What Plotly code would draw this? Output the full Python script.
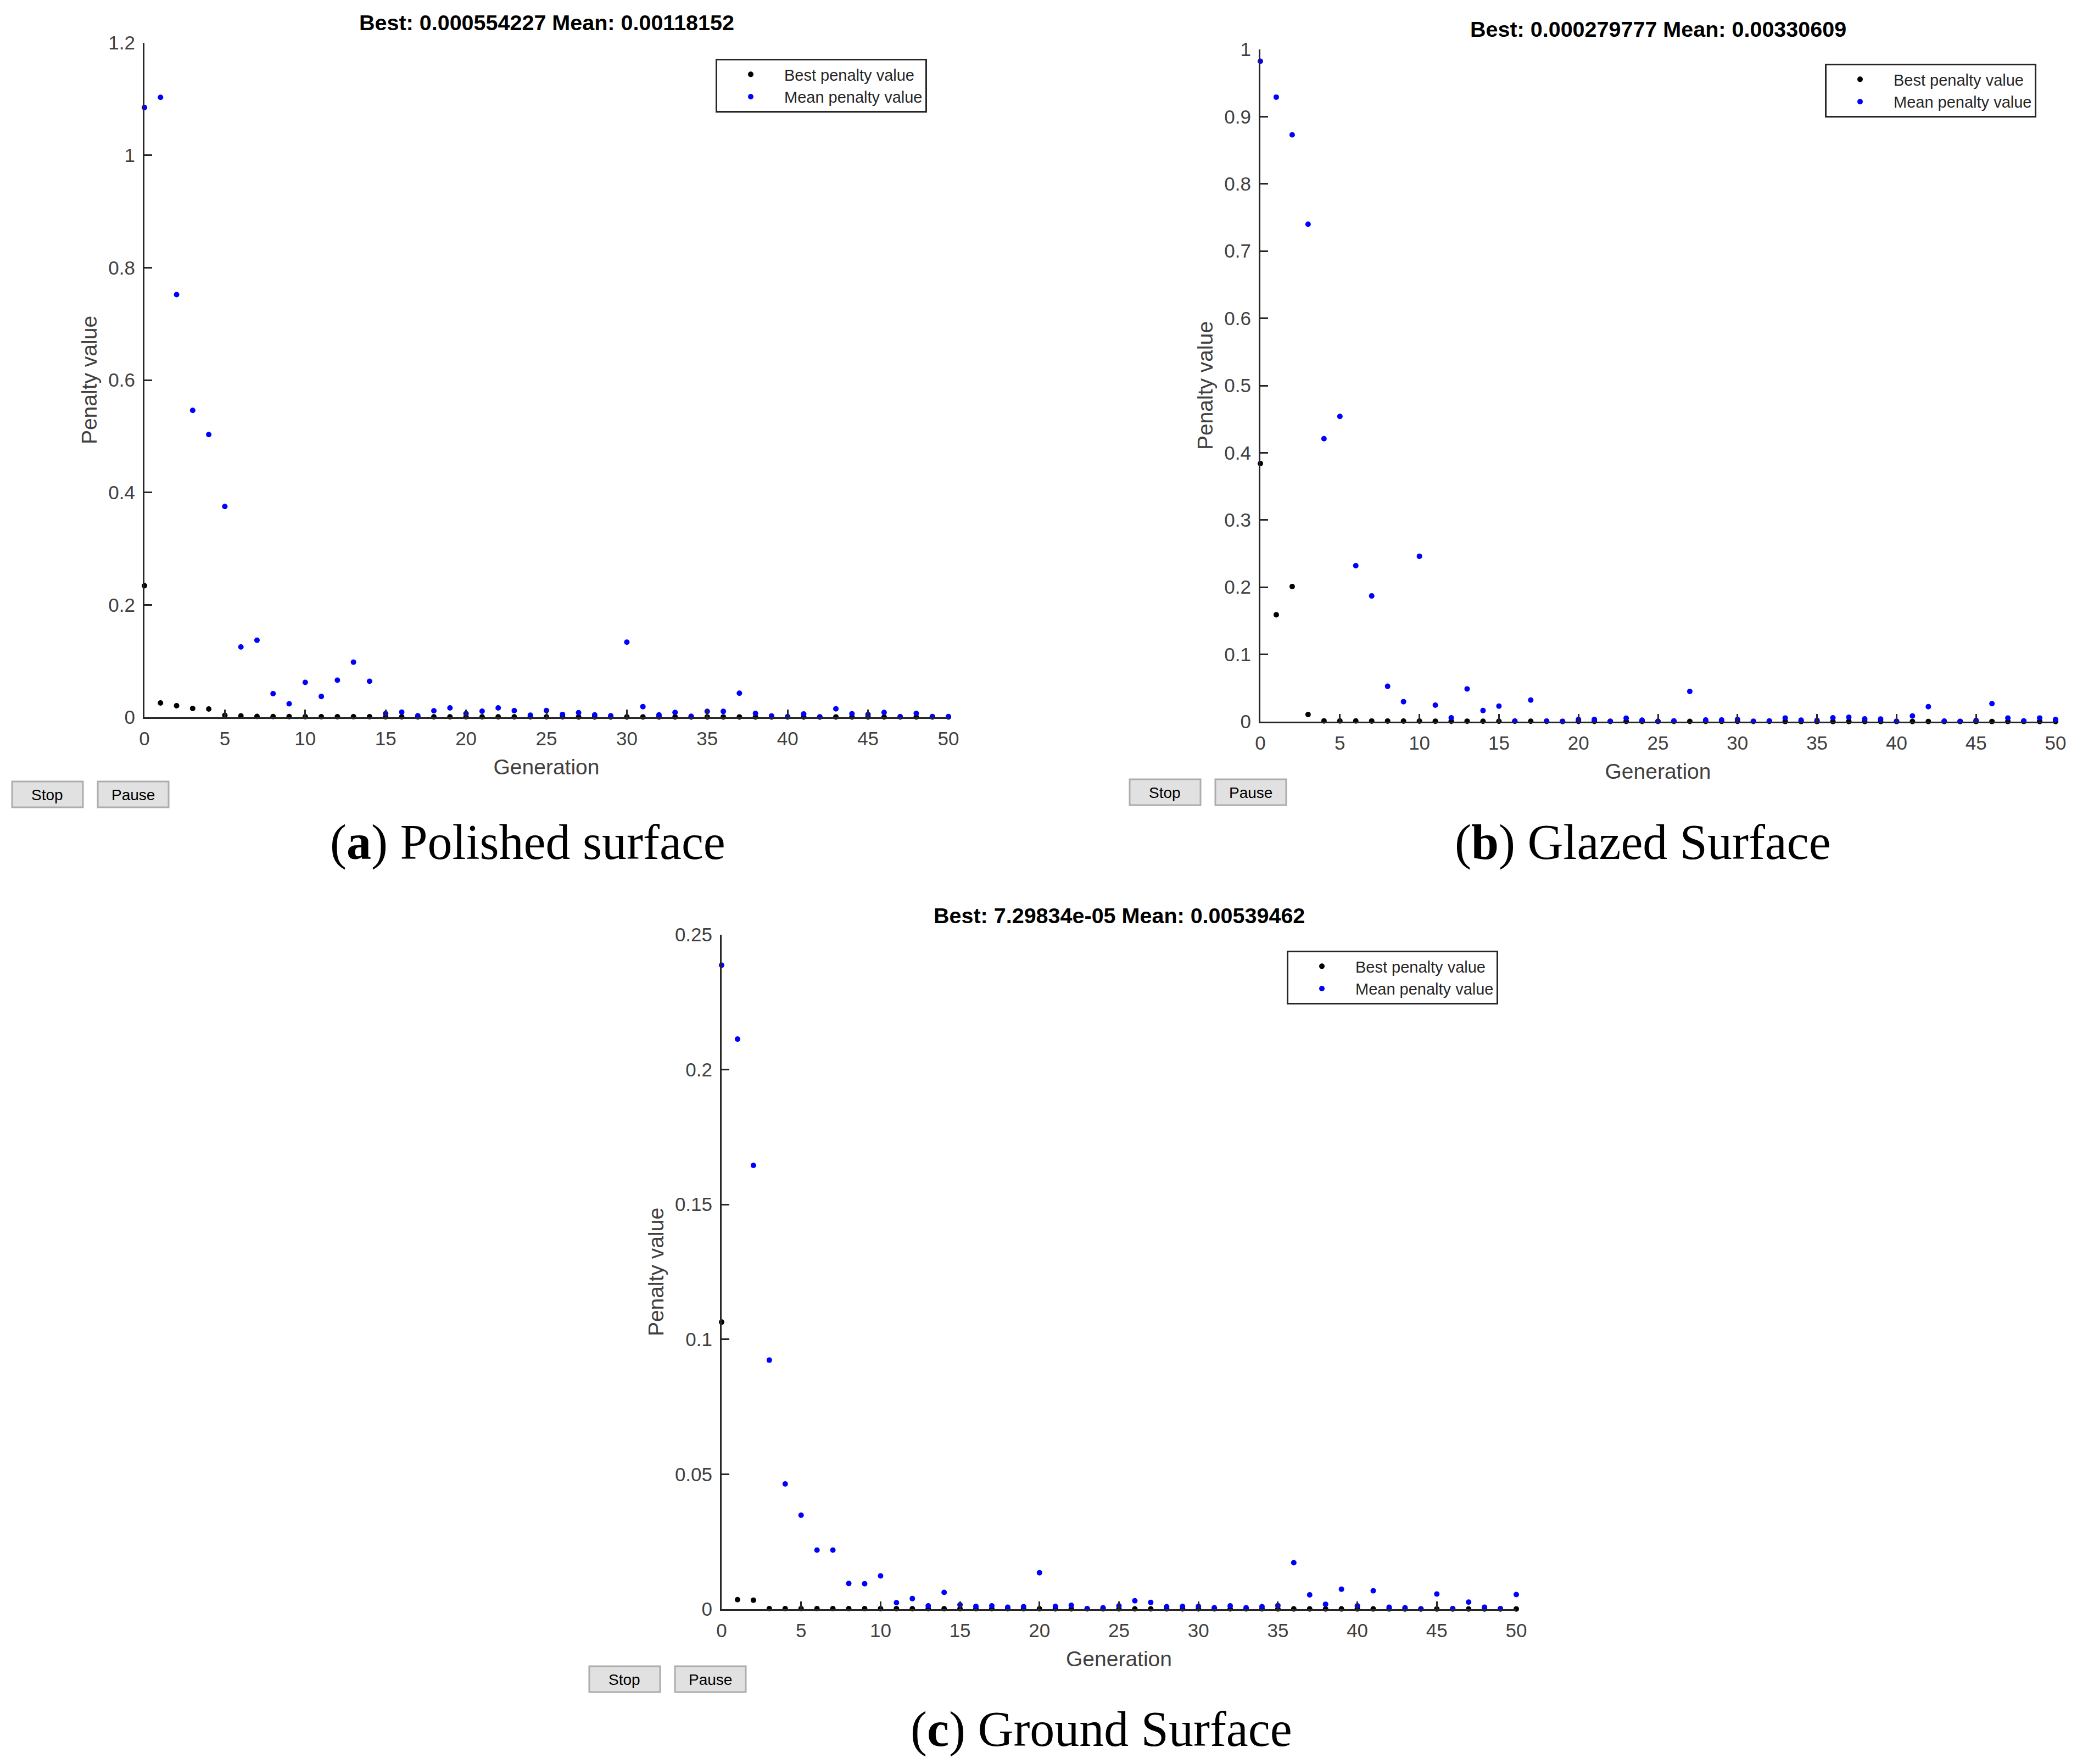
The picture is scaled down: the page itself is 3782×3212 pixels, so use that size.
import plotly.graph_objects as go

W = 3782
H = 3212

generation = list(range(51))
x_ticks = [0, 5, 10, 15, 20, 25, 30, 35, 40, 45, 50]

best_a = [0.234, 0.0254, 0.0205, 0.0156, 0.0147, 0.0035, 0.0025, 0.0015, 0.0012, 0.0011,
          0.001, 0.001, 0.0009, 0.0009, 0.0009, 0.0008, 0.0008, 0.0008, 0.0008, 0.0007,
          0.0007, 0.0007, 0.0007, 0.0007, 0.0007, 0.0007, 0.0007, 0.0006, 0.0006, 0.0006,
          0.0006, 0.0006, 0.0006, 0.0006, 0.0006, 0.0006, 0.0006, 0.0006, 0.0006, 0.0006,
          0.0006, 0.0006, 0.0006, 0.0006, 0.0006, 0.00055, 0.00055, 0.00055, 0.00055, 0.00055,
          0.00055]
mean_a = [1.085, 1.103, 0.752, 0.546, 0.503, 0.375, 0.125, 0.137, 0.042, 0.024,
          0.062, 0.037, 0.066, 0.098, 0.064, 0.0065, 0.009, 0.0026, 0.0114, 0.0166,
          0.0065, 0.0107, 0.0166, 0.0117, 0.0036, 0.012, 0.005, 0.008, 0.0042, 0.0026,
          0.1336, 0.0189, 0.0042, 0.0085, 0.0016, 0.0104, 0.0104, 0.0427, 0.0068, 0.0023,
          0.001, 0.0059, 0.0005, 0.015, 0.0062, 0.0049, 0.0085, 0.001, 0.0068, 0.0013,
          0.0012]

best_b = [0.384, 0.159, 0.201, 0.0106, 0.0011, 0.001, 0.001, 0.0009, 0.0009, 0.0008,
          0.0008, 0.0007, 0.0007, 0.0007, 0.0006, 0.0006, 0.0006, 0.0006, 0.0005, 0.0005,
          0.0005, 0.0005, 0.0005, 0.0005, 0.0004, 0.0004, 0.0004, 0.0004, 0.0004, 0.0004,
          0.0004, 0.0004, 0.0004, 0.0003, 0.0003, 0.0003, 0.0003, 0.0003, 0.0003, 0.0003,
          0.0003, 0.0003, 0.0003, 0.0003, 0.0003, 0.00028, 0.00028, 0.00028, 0.00028, 0.00028,
          0.00028]
mean_b = [0.9825, 0.929, 0.873, 0.74, 0.421, 0.454, 0.232, 0.187, 0.0526, 0.0297,
          0.246, 0.0245, 0.0057, 0.0487, 0.0166, 0.0231, 0.0008, 0.0321, 0.0008, 0.0003,
          0.0033, 0.0033, 0.0005, 0.0052, 0.0022, 0.0006, 0.0011, 0.0449, 0.0025, 0.0025,
          0.0033, 0.0005, 0.0011, 0.0054, 0.0022, 0.0019, 0.0057, 0.0065, 0.0041, 0.0038,
          0.0006, 0.0084, 0.0223, 0.0008, 0.0005, 0.0019, 0.0267, 0.0054, 0.0011, 0.0054,
          0.0033]

best_c = [0.1064, 0.0035, 0.0033, 0.0002, 0.0002, 0.0002, 0.0002, 0.0002, 0.00018, 0.00018,
          0.00017, 0.00017, 0.00016, 0.00016, 0.00015, 0.00015, 0.00015, 0.00014, 0.00014, 0.00013,
          0.00013, 0.00012, 0.00012, 0.00012, 0.00011, 0.00011, 0.00011, 0.0001, 0.0001, 0.0001,
          0.0001, 0.00009, 0.00009, 0.00009, 0.00009, 0.00008, 0.00008, 0.00008, 0.00008, 0.00008,
          0.00008, 0.00008, 0.00008, 0.00007, 0.00007, 0.00007, 0.00007, 0.00007, 0.00007, 0.00007,
          0.00007]
mean_c = [0.2387, 0.2113, 0.1645, 0.0923, 0.0464, 0.0348, 0.0219, 0.0219, 0.0095, 0.0094,
          0.0123, 0.0024, 0.0039, 0.0012, 0.0062, 0.0016, 0.001, 0.0012, 0.0007, 0.0009,
          0.0135, 0.001, 0.0014, 0.0002, 0.0005, 0.0012, 0.0031, 0.0025, 0.0009, 0.001,
          0.001, 0.0005, 0.0012, 0.0005, 0.0009, 0.0013, 0.0172, 0.0053, 0.0018, 0.0074,
          0.0012, 0.0068, 0.0007, 0.0005, 0.0001, 0.0056, 0.0002, 0.0026, 0.0007, 0.0002,
          0.0054]

y_ticks_a = [0, 0.2, 0.4, 0.6, 0.8, 1, 1.2]
y_ticks_b = [0, 0.1, 0.2, 0.3, 0.4, 0.5, 0.6, 0.7, 0.8, 0.9, 1]
y_ticks_c = [0, 0.05, 0.1, 0.15, 0.2, 0.25]

titles = ["Best: 0.000554227 Mean: 0.00118152",
          "Best: 0.000279777 Mean: 0.00330609",
          "Best: 7.29834e-05 Mean: 0.00539462"]
captions = ["(<b>a</b>) Polished surface", "(<b>b</b>) Glazed Surface", "(<b>c</b>) Ground Surface"]

# panel layout in page pixels: left, right, top, bottom of the axes
boxes = [(263, 1727, 78, 1306), (2295, 3743, 90, 1314), (1314, 2761, 1702, 2930)]
title_y = [41, 53, 1667]
caption_xy = [(961, 1534), (2991, 1534), (2005, 3149)]
legend_xy = [(1303, 107), (3323, 116), (2343, 1731)]
button_xy = [(22, 1423), (2057, 1419), (1073, 3034)]

AXIS = "#262626"
TEXT = "#404040"
SANS = "Liberation Sans"


def fx(px):
    return px / W


def fy(px):
    return 1 - px / H


def page_text(x, y, text, font):
    return dict(x=fx(x), y=fy(y), xref="paper", yref="paper", xanchor="center", yanchor="middle",
                text=text, showarrow=False, font=font)


series = [(best_a, mean_a, y_ticks_a), (best_b, mean_b, y_ticks_b), (best_c, mean_c, y_ticks_c)]

fig = go.Figure()
layout = {}
annotations = []
shapes = []

for i, (best, mean, y_ticks) in enumerate(series):
    n = "" if i == 0 else str(i + 1)
    left, right, top, bottom = boxes[i]
    fig.add_trace(go.Scatter(x=generation, y=best, mode="markers", name="Best penalty value",
                             marker=dict(color="#000000", size=10), cliponaxis=False,
                             xaxis="x" + n, yaxis="y" + n, legend="legend" + n))
    fig.add_trace(go.Scatter(x=generation, y=mean, mode="markers", name="Mean penalty value",
                             marker=dict(color="#0000ff", size=10), cliponaxis=False,
                             xaxis="x" + n, yaxis="y" + n, legend="legend" + n))

    layout["xaxis" + n] = dict(domain=[fx(left), fx(right)], anchor="y" + n, range=[0, 50],
                               tickvals=x_ticks, ticks="inside", ticklen=14, tickwidth=3,
                               tickcolor=AXIS, showline=True, linecolor=AXIS, linewidth=3,
                               showgrid=False, zeroline=False, ticklabelstandoff=6,
                               tickfont=dict(family=SANS, size=35, color=TEXT),
                               title=dict(text="Generation", standoff=20,
                                          font=dict(family=SANS, size=39, color=TEXT)))
    layout["yaxis" + n] = dict(domain=[fy(bottom), fy(top)], anchor="x" + n,
                               range=[0, y_ticks[-1]],
                               tickvals=y_ticks, ticks="inside", ticklen=14, tickwidth=3,
                               tickcolor=AXIS, showline=True, linecolor=AXIS, linewidth=3,
                               showgrid=False, zeroline=False, ticklabelstandoff=7,
                               tickfont=dict(family=SANS, size=35, color=TEXT),
                               title=dict(text="Penalty value", standoff=9,
                                          font=dict(family=SANS, size=39, color=TEXT)))
    layout["legend" + n] = dict(x=fx(legend_xy[i][0]), y=fy(legend_xy[i][1]),
                                xanchor="left", yanchor="top", bgcolor="#ffffff",
                                bordercolor=AXIS, borderwidth=3, itemwidth=112,
                                entrywidth=265, entrywidthmode="pixels",
                                font=dict(family=SANS, size=29, color="#262626"))

    annotations.append(page_text((left + right) / 2, title_y[i], "<b>" + titles[i] + "</b>",
                                 dict(family=SANS, size=39.5, color="#000000")))
    annotations.append(page_text(caption_xy[i][0], caption_xy[i][1], captions[i],
                                 dict(family="Liberation Serif", size=90, color="#000000")))

    # Stop and Pause buttons of the solver window
    bx, by = button_xy[i]
    for offset, label in [(0, "Stop"), (156, "Pause")]:
        shapes.append(dict(type="rect", xref="paper", yref="paper",
                           x0=fx(bx + offset), x1=fx(bx + offset + 129),
                           y0=fy(by), y1=fy(by + 47),
                           fillcolor="#e1e1e1", line=dict(color="#adadad", width=3)))
        annotations.append(page_text(bx + offset + 64, by + 24, label,
                                     dict(family=SANS, size=28, color="#000000")))

fig.update_layout(width=W, height=H, margin=dict(l=0, r=0, t=0, b=0, autoexpand=False),
                  paper_bgcolor="#ffffff", plot_bgcolor="#ffffff",
                  annotations=annotations, shapes=shapes, **layout)

fig.write_html("out.html", config={"displayModeBar": False},
               post_script="document.body.style.margin='0'")
